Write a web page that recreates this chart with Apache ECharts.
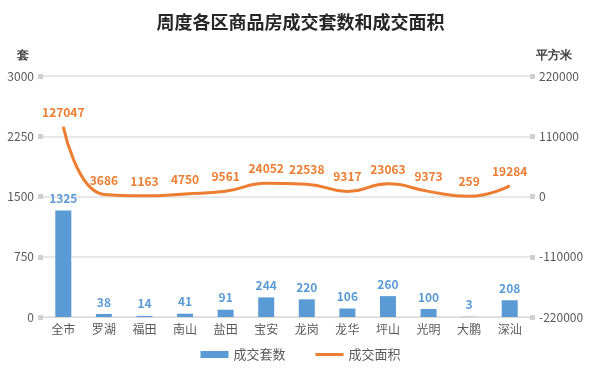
<!DOCTYPE html>
<html><head><meta charset="utf-8">
<script src="https://cdn.jsdelivr.net/npm/echarts@6/dist/echarts.min.js"></script>
<style>html,body{margin:0;padding:0;background:#fff}#c{width:601px;height:370px}</style>
</head><body><div id="c"></div>
<script>
var categories = ['全市','罗湖','福田','南山','盐田','宝安','龙岗','龙华','坪山','光明','大鹏','深汕'];
var units = [1325,38,14,41,91,244,220,106,260,100,3,208];
var area = [127047,3686,1163,4750,9561,24052,22538,9317,23063,9373,259,19284];
var leftTicks = {min:0,max:3000,interval:750};
var rightTicks = {min:-220000,max:220000,interval:110000};

var chart = echarts.init(document.getElementById('c'));
var font = '"Microsoft YaHei","Noto Sans CJK SC",sans-serif';
var plain = function(v){return String(v);};
chart.setOption({
  animation:false,
  title:{text:'周度各区商品房成交套数和成交面积',left:'center',top:8,
    textStyle:{fontSize:18,fontWeight:'bold',color:'#262626',fontFamily:'"Noto Sans CJK SC",serif'}},
  legend:{bottom:4,left:'center',itemWidth:28,itemHeight:7,itemGap:30,symbolKeepAspect:true,
    textStyle:{fontSize:13,color:'#595959',fontFamily:font},
    data:[{name:'成交套数',icon:'rect'},{name:'成交面积',icon:'path://M0,0 L28,0 L28,3 L0,3 Z'}]},
  grid:{left:43,right:71,top:76,bottom:53},
  xAxis:{type:'category',data:categories,
    axisLine:{lineStyle:{color:'#d9d9d9'}},axisTick:{show:false},
    axisLabel:{color:'#595959',fontSize:12,fontFamily:font,margin:6}},
  yAxis:[
    {type:'value',name:'套',min:leftTicks.min,max:leftTicks.max,interval:leftTicks.interval,
     nameLocation:'end',nameGap:14,nameTextStyle:{color:'#404040',fontWeight:'bold',fontSize:12,align:'right',padding:[0,14,0,0]},
     axisLine:{show:true,lineStyle:{color:'rgba(0,0,0,0)'}},axisTick:{show:true,inside:false,length:5,lineStyle:{color:'#d0d0d0',width:5}},
     splitLine:{lineStyle:{color:'#e0e0e0',width:1.5}},
     axisLabel:{color:'#595959',fontSize:12,fontFamily:font,margin:9,formatter:plain}},
    {type:'value',name:'平方米',min:rightTicks.min,max:rightTicks.max,interval:rightTicks.interval,
     nameLocation:'end',nameGap:14,nameTextStyle:{color:'#404040',fontWeight:'bold',fontSize:12,align:'left',padding:[0,0,0,6]},
     axisLine:{show:true,lineStyle:{color:'rgba(0,0,0,0)'}},axisTick:{show:true,length:5,lineStyle:{color:'#d0d0d0',width:5}},
     splitLine:{show:false},
     axisLabel:{color:'#595959',fontSize:12,fontFamily:font,margin:9,formatter:plain}}
  ],
  series:[
    {name:'成交套数',type:'bar',data:units,barWidth:16,yAxisIndex:0,
     itemStyle:{color:'#5B9BD5'},
     label:{show:true,position:'top',color:'#5B9BD5',fontWeight:'bold',fontSize:12,fontFamily:font,distance:6}},
    {name:'成交面积',type:'line',data:area,yAxisIndex:1,smooth:0.5,showSymbol:true,symbol:'circle',symbolSize:1,
     lineStyle:{color:'#ED7D31',width:3},itemStyle:{color:'#ED7D31'},
     label:{show:true,position:'top',color:'#ED7D31',fontWeight:'bold',fontSize:12,fontFamily:font,distance:8}}
  ]
});
</script></body></html>
